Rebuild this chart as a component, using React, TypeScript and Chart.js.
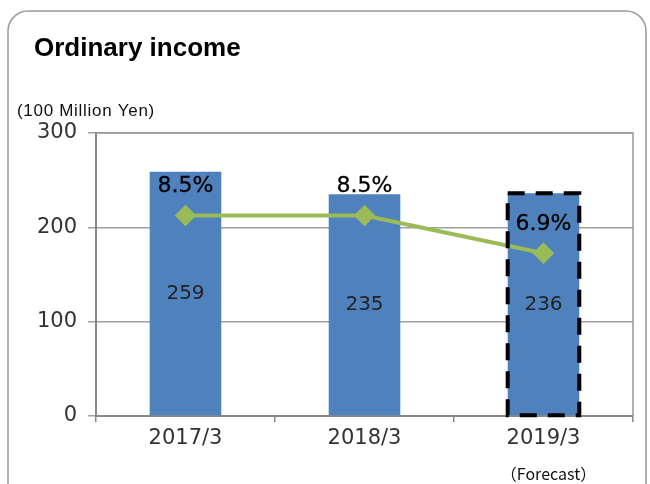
import React, { useEffect, useRef } from "react";
import { Chart, registerables } from "chart.js";

Chart.register(...registerables);

const categories = ["2017/3", "2018/3", "2019/3"];
const incomeValues = [259, 235, 236];
const marginValues = [8.5, 8.5, 6.9];
const marginLabels = ["8.5%", "8.5%", "6.9%"];
const yTicks = [0, 100, 200, 300];
const forecastIndex = 2;

const TEXT = "#222222";
const AXIS_FONT = "'DejaVu Sans', sans-serif";

const decorPlugin = {
  id: "decor",
  beforeDraw(chart: any) {
    const ctx = chart.ctx;
    ctx.save();
    ctx.strokeStyle = "#9a9a9a";
    ctx.lineWidth = 1.5;
    ctx.beginPath();
    ctx.roundRect(8, 11, 638, 620, 20);
    ctx.stroke();
    ctx.fillStyle = "#000";
    ctx.font = "bold 26px 'Liberation Sans', Arial, sans-serif";
    ctx.textBaseline = "alphabetic";
    ctx.textAlign = "left";
    ctx.fillText("Ordinary income", 34, 56);
    ctx.font = "17px 'Liberation Sans', Arial, sans-serif";
    ctx.fillStyle = "#111";
    (ctx as any).letterSpacing = "0.7px";
    ctx.fillText("(100 Million Yen)", 17, 116);
    (ctx as any).letterSpacing = "0px";
    ctx.restore();
  },
  afterDatasetsDraw(chart: any) {
    const ctx = chart.ctx;
    const area = chart.chartArea;
    ctx.save();
    ctx.strokeStyle = "#999";
    ctx.lineWidth = 1.5;
    ctx.beginPath();
    ctx.moveTo(area.left, area.top);
    ctx.lineTo(area.right, area.top);
    ctx.lineTo(area.right, area.bottom);
    ctx.stroke();

    const barMeta = chart.getDatasetMeta(1);
    const lineMeta = chart.getDatasetMeta(0);

    const fb = barMeta.data[forecastIndex];
    if (fb) {
      const half = fb.width / 2;
      ctx.strokeStyle = "#000";
      ctx.lineWidth = 4;
      ctx.setLineDash([17, 11]);
      ctx.strokeRect(fb.x - half, fb.y, fb.width, fb.base - fb.y);
      ctx.setLineDash([]);
    }

    ctx.textAlign = "center";
    ctx.textBaseline = "middle";
    barMeta.data.forEach((bar: any, i: number) => {
      ctx.fillStyle = TEXT;
      ctx.font = "20px " + AXIS_FONT;
      ctx.fillText(String(incomeValues[i]), bar.x, (bar.y + bar.base) / 2);
    });
    lineMeta.data.forEach((pt: any, i: number) => {
      ctx.fillStyle = "#000";
      ctx.strokeStyle = "#000";
      ctx.lineWidth = 0.3;
      ctx.font = "22px " + AXIS_FONT;
      ctx.fillText(marginLabels[i], pt.x, pt.y - 29);
      ctx.strokeText(marginLabels[i], pt.x, pt.y - 29);
    });

    ctx.font = "16px 'Noto Sans CJK JP', 'Liberation Sans', sans-serif";
    ctx.fillStyle = "#111";
    const fx = fb ? fb.x + 5 : 549;
    ctx.fillText("（Forecast）", fx, 474);
    ctx.restore();
  },
};

export default function App() {
  const ref = useRef<HTMLCanvasElement | null>(null);
  useEffect(() => {
    if (!ref.current) return;
    const chart = new Chart(ref.current, {
      type: "bar",
      data: {
        labels: categories,
        datasets: [
          {
            type: "line",
            data: marginValues,
            yAxisID: "y2",
            borderColor: "#9BBB59",
            backgroundColor: "#9BBB59",
            borderWidth: 4,
            pointStyle: "rectRot",
            pointRadius: 8,
            pointBackgroundColor: "#9BBB59",
            pointBorderColor: "#9BBB59",
            order: 0,
          } as any,
          {
            type: "bar",
            data: incomeValues,
            yAxisID: "y",
            backgroundColor: "#4F81BD",
            barPercentage: 0.4,
            categoryPercentage: 1,
            order: 1,
          },
        ],
      },
      plugins: [decorPlugin],
      options: {
        responsive: false,
        animation: false,
        layout: { padding: { top: 133, right: 17, left: 0, bottom: 0 } },
        plugins: { legend: { display: false }, tooltip: { enabled: false } },
        scales: {
          x: {
            offset: true,
            grid: { drawOnChartArea: false, drawTicks: true, tickLength: 6, color: "#888", lineWidth: 1.5, offset: true },
            border: { color: "#888", width: 2 },
            ticks: { color: "#333", font: { family: AXIS_FONT, size: 21 }, padding: 4 },
            afterFit: (s: any) => { s.height = 68; },
          },
          y: {
            min: 0,
            max: 300,
            afterBuildTicks: (s: any) => { s.ticks = yTicks.map((v) => ({ value: v })); },
            grid: { color: "#a0a0a0", lineWidth: 1.5, tickLength: 8 },
            border: { color: "#888", width: 2 },
            ticks: { color: "#333", font: { family: AXIS_FONT, size: 21 }, padding: 11 },
            afterFit: (s: any) => { s.width = 96; },
          },
          y2: { display: false, min: 0, max: 12 },
        },
      },
    } as any);
    return () => chart.destroy();
  }, []);
  return (
    <div style={{ position: "absolute", left: 0, top: 0, width: 650, height: 484, background: "#fff" }}>
      <canvas ref={ref} width={650} height={484} />
    </div>
  );
}
